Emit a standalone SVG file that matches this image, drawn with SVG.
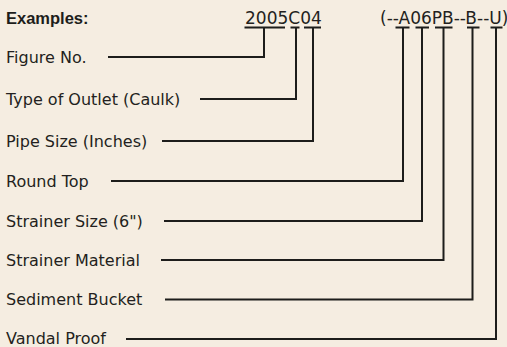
<svg xmlns="http://www.w3.org/2000/svg" width="507" height="347" viewBox="0 0 507 347">
<style>
.bg{fill:#F5EDE1}
.lbl{font-family:"DejaVu Sans",sans-serif;font-size:16px;fill:#231F20}
.hdr{font-family:"DejaVu Sans",sans-serif;font-size:17px;fill:#231F20}
.ttl{font-family:"Liberation Sans",Arial,sans-serif;font-size:16.5px;font-weight:bold;fill:#1d1d1b}
.ln{fill:none;stroke:#1d1d1b;stroke-width:2}
</style>
<rect class="bg" x="0" y="0" width="507" height="347"/>
<g id="title"><text class="ttl" x="6" y="23.5">Examples:</text></g>
<g id="code1">
<text class="hdr" x="245" y="23.5">2005C04</text>
<path class="ln" d="M244.5 27.5H285M290.5 27.5H299.5M304 27.5H321"/>
</g>
<g id="code2">
<text class="hdr" x="380" y="23.5">(--A06PB--B--U)</text>
<path class="ln" d="M395.5 27.5H409.5M415.5 27.5H429M435 27.5H452.5M467 27.5H479.5M490.5 27.5H502.5"/>
</g>
<g id="n1"><text class="lbl" x="6" y="63">Figure No.</text></g>
<g id="n2"><text class="lbl" x="6" y="105">Type of Outlet (Caulk)</text></g>
<g id="n3"><text class="lbl" x="6" y="147">Pipe Size (Inches)</text></g>
<g id="n4"><text class="lbl" x="6" y="187">Round Top</text></g>
<g id="n5"><text class="lbl" x="6" y="227">Strainer Size (6")</text></g>
<g id="n6"><text class="lbl" x="6" y="266">Strainer Material</text></g>
<g id="n7"><text class="lbl" x="6" y="305">Sediment Bucket</text></g>
<g id="n8"><text class="lbl" x="6" y="343.5">Vandal Proof</text></g>
<g id="connectors">
<polyline class="ln" points="264,27 264,57 108,57"/>
<polyline class="ln" points="296,27 296,99 200,99"/>
<polyline class="ln" points="313,27 313,141 162,141"/>
<polyline class="ln" points="403,27 403,181 111,181"/>
<polyline class="ln" points="422,27 422,221 164,221"/>
<polyline class="ln" points="443.5,27 443.5,260 161,260"/>
<polyline class="ln" points="472.5,27 472.5,299.5 165,299.5"/>
<polyline class="ln" points="496,27 496,339 126,339"/>
</g>
</svg>
